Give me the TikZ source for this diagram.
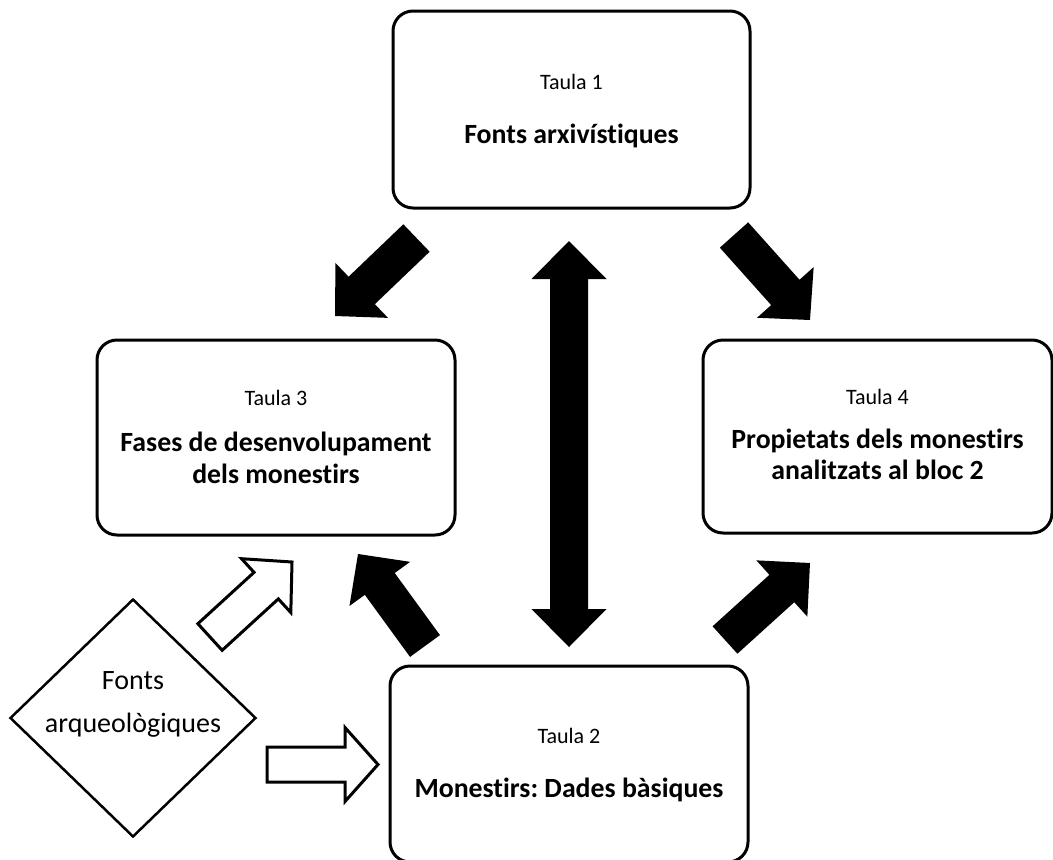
\documentclass[tikz,border=0pt]{standalone}
\usepackage{fontspec}
\setmainfont{Carlito}[Ligatures={NoCommon,NoContextual},Contextuals={NoAlternate}]
\usetikzlibrary{calc,shapes.geometric}
\frenchspacing
\newcommand{\blockarrow}[6]{% #1 style, #2 tail, #3 tip, #4 half shaft, #5 half head, #6 head length
  \coordinate (bh) at ($(#3)!#6!(#2)$);
  \path[#1] ($(#2)!#4!90:(#3)$) -- ($(bh)!#4!90:(#3)$) -- ($(bh)!#5!90:(#3)$) -- (#3)
    -- ($(bh)!#5!-90:(#3)$) -- ($(bh)!#4!-90:(#3)$) -- ($(#2)!#4!-90:(#3)$) -- cycle;
}
\tikzset{
  tablebox/.style={draw=black, line width=3pt, rounded corners=20pt, fill=white, inner sep=0pt},
  taulatxt/.style={anchor=base, inner sep=0pt, font=\fontsize{22}{26}\selectfont},
  boldtxt/.style={anchor=base, inner sep=0pt, font=\fontsize{27.8}{33}\selectfont\bfseries},
  diamtxt/.style={align=center, inner sep=0pt, font=\fontsize{28}{43}\selectfont},
  blackarrow/.style={fill=black},
  whitearrow/.style={fill=white, draw=black, line width=3pt, line join=miter},
}
\begin{document}
\begin{tikzpicture}[x=1pt, y=-1pt]
\useasboundingbox (0,0) rectangle (1053,860);
\clip (0,0) rectangle (1053,860);
\fill[white] (0,0) rectangle (1053,860);

% boxes
\node[tablebox, minimum width=357pt, minimum height=197pt] (t1) at (571.5,109.5) {};
\node[tablebox, minimum width=358pt, minimum height=195pt] (t3) at (276,437.5) {};
\node[tablebox, minimum width=349pt, minimum height=193pt] (t4) at (877.5,436.5) {};
\node[tablebox, minimum width=358pt, minimum height=196pt] (t2) at (569,764) {};

% box texts
\node[taulatxt] (t1a) at (571.5,89) {Taula 1};
\node[boldtxt] (t1b) at (571.5,143) {Fonts arxivístiques};
\node[taulatxt] (t3a) at (276,405) {Taula 3};
\node[boldtxt] (t3b) at (276,451) {Fases de desenvolupament};
\node[boldtxt] (t3c) at (276,483) {dels monestirs};
\node[taulatxt] (t4a) at (877.5,404) {Taula 4};
\node[boldtxt] (t4b) at (877.5,448) {Propietats dels monestirs};
\node[boldtxt] (t4c) at (877.5,479) {analitzats al bloc 2};
\node[taulatxt] (t2a) at (569,743) {Taula 2};
\node[boldtxt] (t2b) at (569,797) {Monestirs: Dades bàsiques};

% diamond
\node[diamond, draw=black, line width=2.5pt, minimum width=246pt, minimum height=238pt, inner sep=0pt] (fa) at (133,718) {};
\node[diamtxt] (fat) at (133,704) {Fonts\\arqueològiques};

% arrow end points
\coordinate (aAt) at (416.5,238);  \coordinate (aAh) at (335,316);
\coordinate (aBt) at (734,235);    \coordinate (aBh) at (810,320);
\coordinate (aCt) at (425,646);    \coordinate (aCh) at (358,554);
\coordinate (aDt) at (725,640);    \coordinate (aDh) at (810,563);
\coordinate (aEt) at (210,637);    \coordinate (aEh) at (292,562);
\coordinate (aFt) at (267,764.5);  \coordinate (aFh) at (378,764.5);
\coordinate (vt) at (569,241);     \coordinate (vb) at (569,647);

% black block arrows
\blockarrow{blackarrow}{aAt}{aAh}{19pt}{38pt}{37pt}
\blockarrow{blackarrow}{aBt}{aBh}{19pt}{38pt}{37pt}
\blockarrow{blackarrow}{aCt}{aCh}{18.5pt}{37.5pt}{37pt}
\blockarrow{blackarrow}{aDt}{aDh}{18.5pt}{38pt}{38pt}

% double vertical arrow
\fill[black] (vt) -- ($(vt)+(37.5,38)$) -- ($(vt)+(19,38)$) -- ($(vb)+(19,-38)$) -- ($(vb)+(37.5,-38)$)
  -- (vb) -- ($(vb)+(-37.5,-38)$) -- ($(vb)+(-19,-38)$) -- ($(vt)+(-19,38)$) -- ($(vt)+(-37.5,38)$) -- cycle;

% white block arrows
\blockarrow{whitearrow}{aEt}{aEh}{18pt}{36.5pt}{35pt}
\blockarrow{whitearrow}{aFt}{aFh}{17.5pt}{37pt}{33pt}
\end{tikzpicture}
\end{document}
